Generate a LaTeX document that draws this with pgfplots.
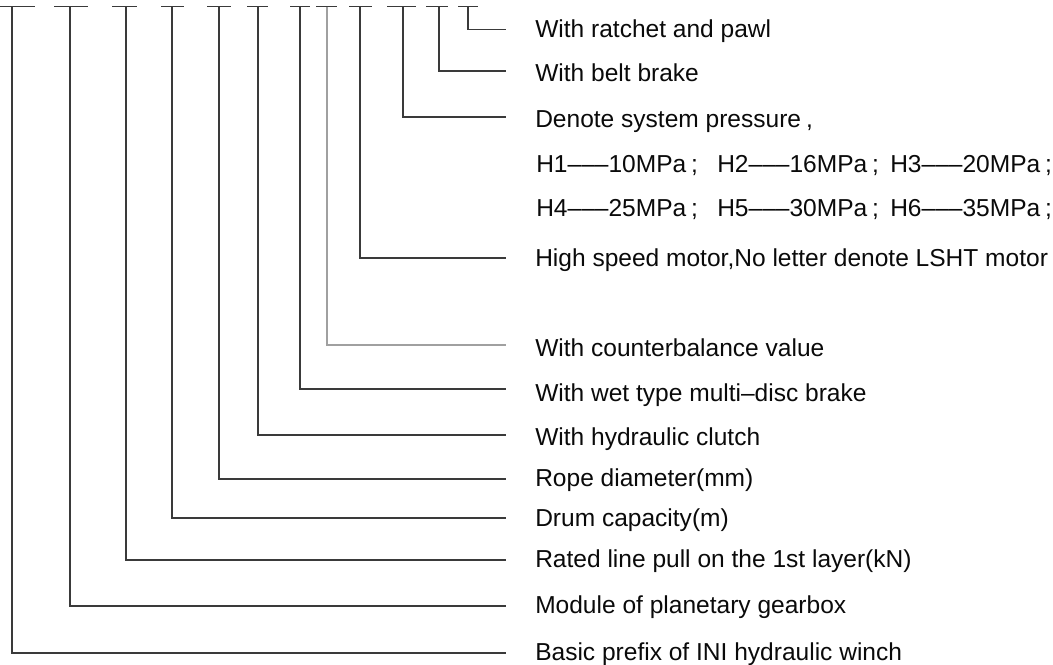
\documentclass[border=0pt]{standalone}
\usepackage{pgfplots}
\pgfplotsset{compat=1.18}
\usepackage{fontspec}
\setmainfont{Liberation Sans}
\newfontfamily\lbl{Liberation Sans}
\definecolor{ln}{HTML}{3A3A3A}
\definecolor{lnlight}{HTML}{A0A0A0}
\definecolor{txt}{HTML}{0A0A0A}
\tikzset{lab/.style={anchor=base west, inner sep=0pt, text=txt, font=\lbl\fontsize{18.4}{20}\selectfont}}
\pgfplotsset{conn/.style={line width=0.95pt, color=ln, mark=none, solid}}
\begin{document}
\begin{tikzpicture}
\begin{axis}[
  scale only axis, width=789.75pt, height=498pt,
  xmin=0, xmax=1053, ymin=0, ymax=664, y dir=reverse,
  hide axis, clip=false,
  unbounded coords=jump,
]
% top dashes (code positions)
\addplot[conn] coordinates {(0,6.5) (35,6.5) (nan,nan)
 (54,6.5) (88,6.5) (nan,nan)
 (112,6.5) (137,6.5) (nan,nan)
 (161,6.5) (184,6.5) (nan,nan)
 (207,6.5) (231,6.5) (nan,nan)
 (247,6.5) (268,6.5) (nan,nan)
 (290,6.5) (310,6.5) (nan,nan)
 (316,6.5) (337,6.5) (nan,nan)
 (349,6.5) (372,6.5) (nan,nan)
 (387,6.5) (416,6.5) (nan,nan)
 (426,6.5) (448,6.5) (nan,nan)
 (458,6.5) (478,6.5)};
% connectors
\addplot[conn] coordinates {(12,6.5) (12,653) (506,653)};
\addplot[conn] coordinates {(70,6.5) (70,606) (506,606)};
\addplot[conn] coordinates {(126,6.5) (126,560) (506,560)};
\addplot[conn] coordinates {(172,6.5) (172,518) (506,518)};
\addplot[conn] coordinates {(219,6.5) (219,479) (506,479)};
\addplot[conn] coordinates {(258,6.5) (258,435) (506,435)};
\addplot[conn] coordinates {(300,6.5) (300,389) (506,389)};
\addplot[conn, color=lnlight] coordinates {(327,6.5) (327,345) (506,345)};
\addplot[conn] coordinates {(360,6.5) (360,258) (506,258)};
\addplot[conn] coordinates {(403,6.5) (403,117) (506,117)};
\addplot[conn] coordinates {(439,6.5) (439,71) (506,71)};
\addplot[conn] coordinates {(468,6.5) (468,29.3) (506,29.3)};
% labels
\node[lab] at (axis cs:535,37) {With ratchet and pawl};
\node[lab] at (axis cs:535,81) {With belt brake};
\node[lab] at (axis cs:535,127.3) {Denote system pressure\hspace{0.2em},};
\node[lab] at (axis cs:536,172.7) {H1–––10MPa\hspace{0.2em};};
\node[lab] at (axis cs:717,172.7) {H2–––16MPa\hspace{0.2em};};
\node[lab] at (axis cs:890,172.7) {H3–––20MPa\hspace{0.2em};};
\node[lab] at (axis cs:536,216.7) {H4–––25MPa\hspace{0.2em};};
\node[lab] at (axis cs:717,216.7) {H5–––30MPa\hspace{0.2em};};
\node[lab] at (axis cs:890,216.7) {H6–––35MPa\hspace{0.2em};};
\node[lab] at (axis cs:535,266.7) {High speed motor,No letter denote LSHT motor};
\node[lab] at (axis cs:535,356.7) {With counterbalance value};
\node[lab] at (axis cs:535,401) {With wet type multi–disc brake};
\node[lab] at (axis cs:535,445.7) {With hydraulic clutch};
\node[lab] at (axis cs:535,486) {Rope diameter(mm)};
\node[lab] at (axis cs:535,526.7) {Drum capacity(m)};
\node[lab] at (axis cs:535,567.3) {Rated line pull on the 1st layer(kN)};
\node[lab] at (axis cs:535,613.3) {Module of planetary gearbox};
\node[lab] at (axis cs:535,660) {Basic prefix of INI hydraulic winch};
\end{axis}
\pgfresetboundingbox
\useasboundingbox (current axis.south west) rectangle (current axis.north east);
\end{tikzpicture}
\end{document}
